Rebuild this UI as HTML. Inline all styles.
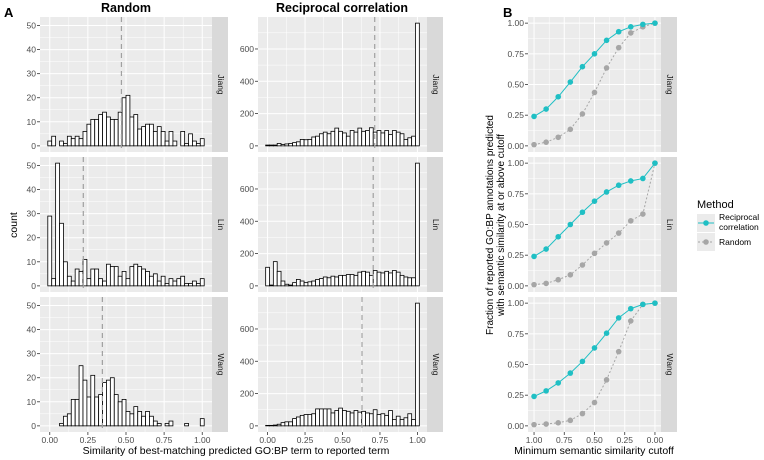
<!DOCTYPE html>
<html><head><meta charset="utf-8"><style>
html,body{margin:0;padding:0;background:#fff;}
svg{display:block;font-family:"Liberation Sans",Arial,sans-serif;}
</style></head><body>
<svg id="fig" width="764" height="460" viewBox="0 0 764 460"></svg>
<script>
const methods = ["Random","Reciprocal correlation"];
const measures = ["Jiang","Lin","Wang"];
const randJiang = [2,4,0,2,1,4,3,4,3,6,9,11,11,13,14,12,11,11,14,20,21,12,13,7,8,9,9,6,8,6,2,6,2,0,6,1,5,2,1,3];
const randLin = [29,3,51,26,10,4,2,7,6,11,3,7,7,3,2,9,8,8,4,6,3,8,9,8,7,6,4,5,2,4,1,3,2,3,4,1,1,2,1,3];
const randWang = [0,0,0,1,4,5,11,11,25,19,12,21,12,13,18,19,20,13,10,11,6,5,8,6,4,6,4,2,1,0,1,2,0,0,0,1,0,0,0,3];
const recJiang = [5,5,5,15,8,12,15,20,25,40,38,40,55,60,75,85,75,90,110,90,80,60,95,85,110,90,95,112,85,95,80,95,70,95,85,75,40,50,60,760];
const recLin = [115,5,150,90,30,10,5,20,40,30,20,25,30,40,45,55,50,60,55,65,65,70,70,65,85,90,85,65,95,85,80,90,80,95,85,65,55,50,50,760];
const recWang = [3,3,5,10,20,25,25,45,55,65,70,70,75,105,105,105,105,80,95,110,95,90,80,95,85,90,80,75,100,70,75,65,95,40,60,40,50,75,40,760];
const randMeans = [0.47,0.22,0.345];
const recMeans = [0.715,0.705,0.63];
const cutoffs = [1.0,0.9,0.8,0.7,0.6,0.5,0.4,0.3,0.2,0.1,0.0];
const fracRecJiang = [0.24,0.30,0.40,0.52,0.645,0.75,0.86,0.93,0.97,0.99,1.0];
const fracRandJiang = [0.01,0.03,0.07,0.135,0.26,0.435,0.635,0.80,0.92,0.97,1.0];
const fracRecLin = [0.24,0.30,0.40,0.50,0.60,0.69,0.765,0.82,0.855,0.875,1.0];
const fracRandLin = [0.01,0.02,0.05,0.09,0.17,0.265,0.35,0.43,0.53,0.585,1.0];
const fracRecWang = [0.24,0.285,0.35,0.43,0.525,0.635,0.755,0.88,0.955,0.99,1.0];
const fracRandWang = [0.01,0.015,0.025,0.045,0.10,0.19,0.375,0.605,0.855,0.99,1.0];
const histTicksX = ["0.00","0.25","0.50","0.75","1.00"];
const leftTicksY = [0,10,20,30,40,50];
const rightTicksY = [0,200,400,600];
const fracTicks = ["0.00","0.25","0.50","0.75","1.00"];

const NS="http://www.w3.org/2000/svg";
const svg=document.getElementById("fig");
function mk(tag,attrs,parent,text){const e=document.createElementNS(NS,tag);for(const k in attrs)e.setAttribute(k,attrs[k]);if(text!==undefined)e.textContent=text;(parent||svg).appendChild(e);return e;}
function lin(d0,d1,r0,r1){return v=>r0+(v-d0)/(d1-d0)*(r1-r0);}

const rowsTop=[17,157,297], PH=135;
const histData=[[randJiang,randLin,randWang],[recJiang,recLin,recWang]];
const meanData=[randMeans,recMeans];
const colX=[[40,212],[258,427]];
const yDom=[[-2.55,53.55],[-38,798]];
const yTicks=[leftTicksY,rightTicksY];
const yMinor=[[5,15,25,35,45],[100,300,500,700]];
const NB=40, bw=1/(NB-1);

for(let c=0;c<2;c++){
  for(let r=0;r<3;r++){
    const g=mk("g",{},svg);
    
    
    const x0=colX[c][0],x1=colX[c][1],y0=rowsTop[r],y1=y0+PH;
    const X=lin(-0.064,1.064,x0,x1), Y=lin(yDom[c][0],yDom[c][1],y1,y0);
    mk("rect",{x:x0,y:y0,width:x1-x0,height:PH,fill:"#ebebeb"},g);
    [0.125,0.375,0.625,0.875].forEach(v=>mk("line",{x1:X(v),x2:X(v),y1:y0,y2:y1,stroke:"#fff","stroke-width":0.5},g));
    yMinor[c].forEach(v=>mk("line",{x1:x0,x2:x1,y1:Y(v),y2:Y(v),stroke:"#fff","stroke-width":0.5},g));
    histTicksX.forEach(t=>mk("line",{x1:X(+t),x2:X(+t),y1:y0,y2:y1,stroke:"#fff","stroke-width":1},g));
    yTicks[c].forEach(v=>{mk("line",{x1:x0,x2:x1,y1:Y(v),y2:Y(v),stroke:"#fff","stroke-width":1},g);
      mk("line",{x1:x0-3,x2:x0,y1:Y(v),y2:Y(v),stroke:"#333","stroke-width":0.8},g);
      const t=mk("text",{x:x0-4,y:Y(v)+3,"font-size":8.5,fill:"#4d4d4d","text-anchor":"end"},g,String(v));
      });
    histData[c][r].forEach((v,i)=>{
      const b=mk("rect",{x:X(i*bw-bw/2),y:Y(v),width:X(bw)-X(0),height:Math.max(0,Y(0)-Y(v)),fill:"#fff",stroke:"#000","stroke-width":0.8},g);
      
    });
    const m=meanData[c][r];
    const ml=mk("line",{x1:X(m),x2:X(m),y1:y0,y2:y1,stroke:"#a0a0a0","stroke-width":1.2,"stroke-dasharray":"5,4"},g);
    
    mk("rect",{x:x1,y:y0,width:16,height:PH,fill:"#d9d9d9"},g);
    const st=mk("text",{x:x1+8,y:y0+PH/2,"font-size":8.5,fill:"#1a1a1a","text-anchor":"middle",transform:`rotate(90 ${x1+8} ${y0+PH/2})`,"dominant-baseline":"middle"},g,measures[r]);
    
    if(r===2){histTicksX.forEach(t=>{mk("line",{x1:X(+t),x2:X(+t),y1:y1,y2:y1+3,stroke:"#333","stroke-width":0.8},g);
      const tl=mk("text",{x:X(+t),y:y1+11,"font-size":8.5,fill:"#4d4d4d","text-anchor":"middle"},g,t);
      });}
  }
}
// Panel B
const bRec=[fracRecJiang,fracRecLin,fracRecWang], bRand=[fracRandJiang,fracRandLin,fracRandWang];
for(let r=0;r<3;r++){
  const g=mk("g",{},svg);
  
  
  const x0=528,x1=661,y0=rowsTop[r],y1=y0+PH;
  const X=lin(1.05,-0.05,x0,x1), Y=lin(-0.05,1.05,y1,y0);
  mk("rect",{x:x0,y:y0,width:x1-x0,height:PH,fill:"#ebebeb"},g);
  [0.125,0.375,0.625,0.875].forEach(v=>{mk("line",{x1:X(v),x2:X(v),y1:y0,y2:y1,stroke:"#fff","stroke-width":0.5},g);mk("line",{x1:x0,x2:x1,y1:Y(v),y2:Y(v),stroke:"#fff","stroke-width":0.5},g);});
  fracTicks.forEach(t=>{const v=+t;mk("line",{x1:X(v),x2:X(v),y1:y0,y2:y1,stroke:"#fff","stroke-width":1},g);mk("line",{x1:x0,x2:x1,y1:Y(v),y2:Y(v),stroke:"#fff","stroke-width":1},g);
    mk("line",{x1:x0-3,x2:x0,y1:Y(v),y2:Y(v),stroke:"#333","stroke-width":0.8},g);
    const tl=mk("text",{x:x0-4,y:Y(v)+3,"font-size":8.5,fill:"#4d4d4d","text-anchor":"end"},g,t);
    });
  const series=[[bRand[r],"#a6a6a6","2,2","random"],[bRec[r],"#1fbfc4","","reciprocal"]];
  series.forEach(([vals,col,dash,nm])=>{
    const pts=vals.map((v,i)=>X(cutoffs[i])+","+Y(v)).join(" ");
    const pl=mk("polyline",{points:pts,fill:"none",stroke:col,"stroke-width":1,"stroke-dasharray":dash},g);
    
    vals.forEach((v,i)=>{const p=mk("circle",{cx:X(cutoffs[i]),cy:Y(v),r:2.8,fill:col},g);
      });
  });
  mk("rect",{x:x1,y:y0,width:16,height:PH,fill:"#d9d9d9"},g);
  const st=mk("text",{x:x1+8,y:y0+PH/2,"font-size":8.5,fill:"#1a1a1a","text-anchor":"middle",transform:`rotate(90 ${x1+8} ${y0+PH/2})`,"dominant-baseline":"middle"},g,measures[r]);
  
  if(r===2){fracTicks.forEach(t=>{mk("line",{x1:X(+t),x2:X(+t),y1:y1,y2:y1+3,stroke:"#333","stroke-width":0.8},g);
    const tl=mk("text",{x:X(+t),y:y1+11,"font-size":8.5,fill:"#4d4d4d","text-anchor":"middle"},g,t);
    });}
}
</script>
<svg width="764" height="460" style="position:absolute;left:0;top:0;font-family:'Liberation Sans',Arial,sans-serif;pointer-events:none">
  <text x="4" y="17" font-size="13" font-weight="bold">A</text>
  <text x="503" y="17" font-size="13" font-weight="bold">B</text>
  <text x="126" y="12" font-size="12.5" font-weight="bold" text-anchor="middle">Random</text>
  <text x="342" y="12" font-size="12.5" font-weight="bold" text-anchor="middle">Reciprocal correlation</text>
  <text x="0" y="0" font-size="10.5" text-anchor="middle" transform="translate(17 225) rotate(-90)">count</text>
  <text x="236" y="454" font-size="10.5" text-anchor="middle">Similarity of best-matching predicted GO:BP term to reported term</text>
  <text x="594" y="454" font-size="10.5" text-anchor="middle">Minimum semantic similarity cutoff</text>
  <g transform="translate(0 225) rotate(-90)">
    <text x="0" y="493" font-size="10" text-anchor="middle">Fraction of reported GO:BP annotations predicted</text>
    <text x="0" y="504" font-size="10" text-anchor="middle">with semantic similarity at or above cutoff</text>
  </g>
  <g>
    <text x="697" y="208" font-size="11">Method</text>
    <rect x="697" y="214" width="18" height="18" fill="#ebebeb"/>
    <rect x="697" y="233" width="18" height="18" fill="#ebebeb"/>
    <g>
      <line x1="698" x2="714" y1="223" y2="223" stroke="#1fbfc4" stroke-width="1"/>
      <circle cx="706" cy="223" r="2.8" fill="#1fbfc4"/>
      <text x="719" y="220" font-size="8.5">Reciprocal</text>
      <text x="719" y="230" font-size="8.5">correlation</text>
    </g>
    <g>
      <line x1="698" x2="714" y1="242" y2="242" stroke="#a6a6a6" stroke-width="1" stroke-dasharray="2,2"/>
      <circle cx="706" cy="242" r="2.8" fill="#a6a6a6"/>
      <text x="719" y="245" font-size="8.5">Random</text>
    </g>
  </g>
</svg>
</body></html>
